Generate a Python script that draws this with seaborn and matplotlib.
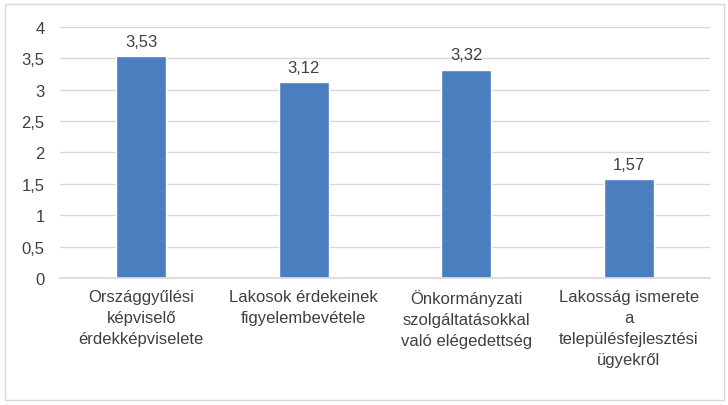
import matplotlib
matplotlib.use("Agg")
import matplotlib.pyplot as plt
import seaborn as sns
import pandas as pd
from matplotlib.patches import Rectangle

categories = [
    "Országgyűlési\nképviselő\nérdekképviselete",
    "Lakosok érdekeinek\nfigyelembevétele",
    "Önkormányzati\nszolgáltatásokkal\nvaló elégedettség",
    "Lakosság ismerete\na\ntelepülésfejlesztési\nügyekről",
]
values = [3.53, 3.12, 3.32, 1.57]
yticks = [0, 0.5, 1, 1.5, 2, 2.5, 3, 3.5, 4]
ytick_labels = ["0", "0,5", "1", "1,5", "2", "2,5", "3", "3,5", "4"]

sns.set_theme(style="white")
plt.rcParams["font.family"] = ["Liberation Sans Narrow", "Liberation Sans", "DejaVu Sans"]

df = pd.DataFrame({"cat": categories, "val": values})

fig = plt.figure(figsize=(7.28, 4.06), dpi=100)
ax = fig.add_axes([0.0824, 0.313, 0.893, 0.618])
sns.barplot(data=df, x="cat", y="val", color="#4a7ebf", width=0.31, ax=ax, saturation=1)

ax.set_ylim(0, 4)
ax.set_yticks(yticks)
ax.set_yticklabels(ytick_labels, fontsize=12, color="#404040")
ax.yaxis.grid(True, color="#d9d9d9", linewidth=1)
ax.set_axisbelow(True)
ax.set_xlabel("")
ax.set_ylabel("")
ax.tick_params(axis="x", labelsize=12, colors="#404040", length=0, pad=8)
ax.tick_params(axis="y", length=0, pad=11)
for lab in ax.get_xticklabels():
    lab.set_linespacing(1.5)
for s in ["top", "right", "left"]:
    ax.spines[s].set_visible(False)
ax.spines["bottom"].set_color("#d9d9d9")

for i, v in enumerate(values):
    ax.text(i, v + 0.12, f"{v:.2f}".replace(".", ","), ha="center", va="bottom",
            fontsize=12, color="#404040")

fig.patches.append(Rectangle((0.007, 0.012), 0.988, 0.975, transform=fig.transFigure,
                             fill=False, edgecolor="#d9d9d9", linewidth=1))
fig.savefig("out.png", dpi=100)
